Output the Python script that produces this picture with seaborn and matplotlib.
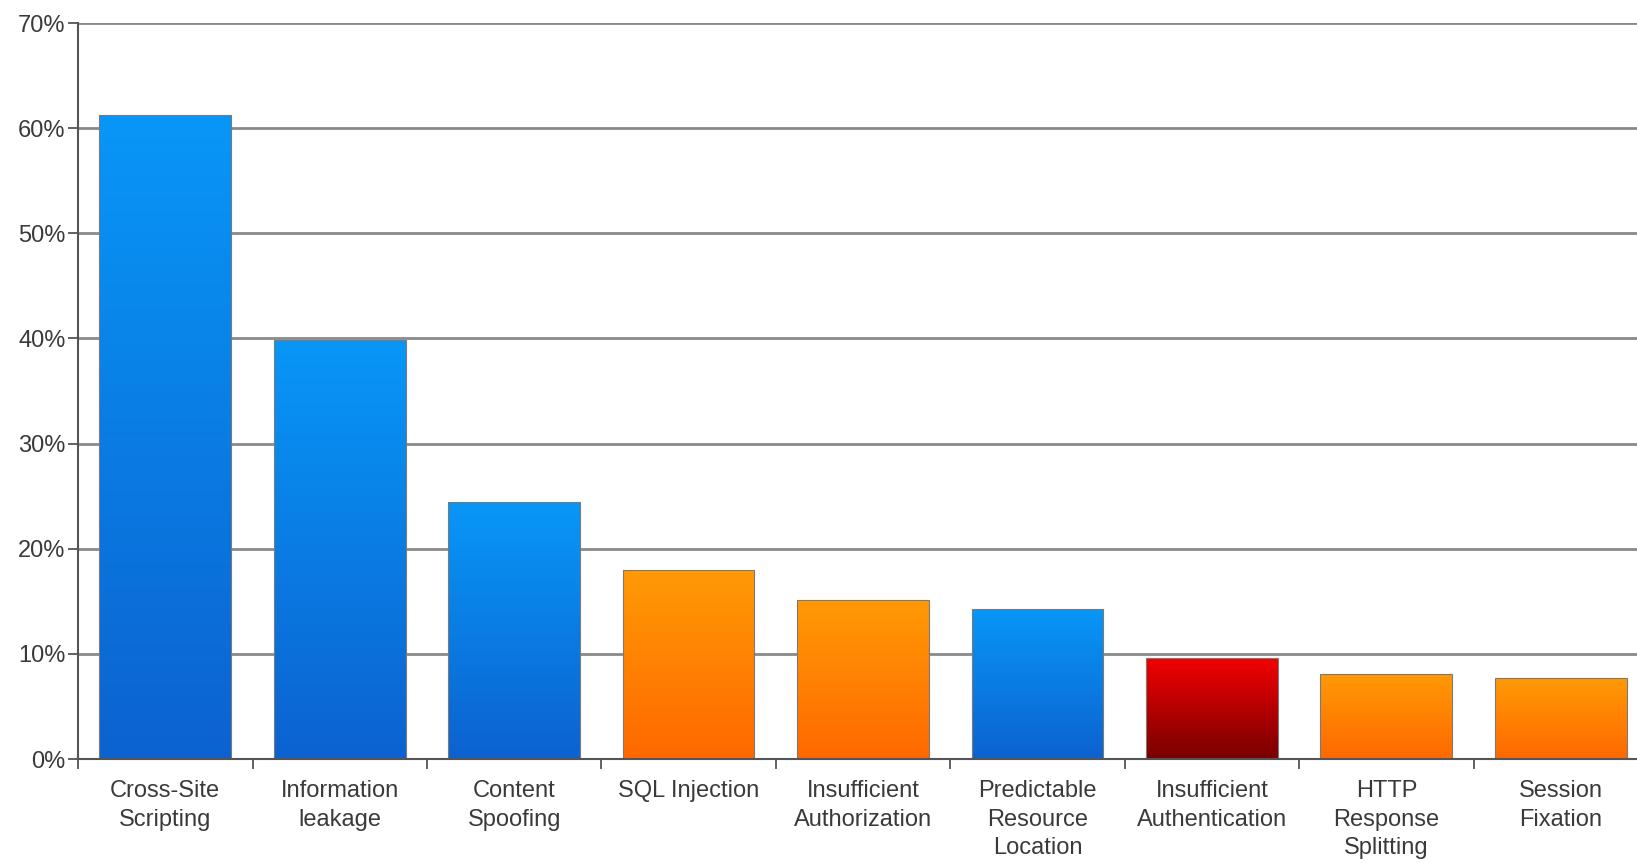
import matplotlib
matplotlib.use("Agg")
import matplotlib.pyplot as plt
import numpy as np
import pandas as pd
import seaborn as sns
from matplotlib.colors import LinearSegmentedColormap

# ---- data ----
CATEGORIES = [
    "Cross-Site\nScripting", "Information\nleakage", "Content\nSpoofing",
    "SQL Injection", "Insufficient\nAuthorization", "Predictable\nResource\nLocation",
    "Insufficient\nAuthentication", "HTTP\nResponse\nSplitting", "Session\nFixation",
]
VALUES = [61.3, 39.9, 24.4, 18.0, 15.1, 14.3, 9.6, 8.1, 7.7]
GROUPS = ["blue", "blue", "blue", "orange", "orange", "blue", "red", "orange", "orange"]
Y_TICKS = [0, 10, 20, 30, 40, 50, 60, 70]

# gradient (top, bottom) per group
GRADIENTS = {
    "blue": ("#0897f7", "#0c62d0"),
    "orange": ("#ff9a05", "#ff6800"),
    "red": ("#f20000", "#780000"),
}

sns.set_style("white")
plt.rcParams["font.family"] = ["Liberation Sans", "DejaVu Sans"]

df = pd.DataFrame({"category": CATEGORIES, "value": VALUES, "group": GROUPS})

fig = plt.figure(figsize=(16.37, 8.63), dpi=100)
ax = fig.add_axes([0.0477, 0.1205, 0.959, 0.8528])

sns.barplot(data=df, x="category", y="value", hue="group",
            palette={k: v[0] for k, v in GRADIENTS.items()},
            dodge=False, width=0.755, legend=False, ax=ax, zorder=3)

# paint each bar with a vertical gradient clipped to its rectangle
grad = np.linspace(0, 1, 256).reshape(-1, 1)
for patch in ax.patches:
    h = patch.get_height()
    if not np.isfinite(h) or h <= 0:
        continue
    x0 = patch.get_x()
    w = patch.get_width()
    idx = int(round(x0 + w / 2))
    top, bottom = GRADIENTS[GROUPS[idx]]
    cmap = LinearSegmentedColormap.from_list("g", [bottom, top])
    im = ax.imshow(grad, cmap=cmap, aspect="auto", origin="lower",
                   extent=[x0, x0 + w, 0, h], zorder=4)
    im.set_clip_path(patch)
    patch.set_edgecolor("#7a7a7a")
    patch.set_linewidth(0.8)
    patch.set_zorder(5)
    patch.set_facecolor("none")

ax.set_xlim(-0.5, len(CATEGORIES) - 0.5)
ax.set_ylim(0, 70)
ax.set_xlabel("")
ax.set_ylabel("")

# y axis
ax.set_yticks(Y_TICKS)
ax.set_yticklabels([f"{t}%" for t in Y_TICKS])
ax.yaxis.grid(True, color="#8a8a8a", linewidth=2.0, zorder=1)
ax.set_axisbelow(True)
ax.tick_params(axis="y", length=7, width=1.3, color="#555555", pad=2,
               labelsize=17, labelcolor="#3a3a3a", left=True)

# x axis: ticks at category boundaries, labels at centers
ax.set_xticks(np.arange(-0.5, len(CATEGORIES), 1.0))
ax.set_xticklabels([])
ax.set_xticks(np.arange(len(CATEGORIES)), minor=True)
ax.set_xticklabels(CATEGORIES, minor=True, ha="center", multialignment="center")
ax.tick_params(axis="x", which="major", length=7, width=1.3, color="#555555",
               bottom=True, direction="out")
ax.tick_params(axis="x", which="minor", length=0, pad=15,
               labelsize=17, labelcolor="#3a3a3a")
for lab in ax.get_xticklabels(minor=True):
    lab.set_linespacing(1.4)

for side in ["top", "right"]:
    ax.spines[side].set_visible(False)
for side in ["left", "bottom"]:
    ax.spines[side].set_color("#555555")
    ax.spines[side].set_linewidth(1.5)
    ax.spines[side].set_zorder(6)

fig.savefig("out.png", dpi=100)
